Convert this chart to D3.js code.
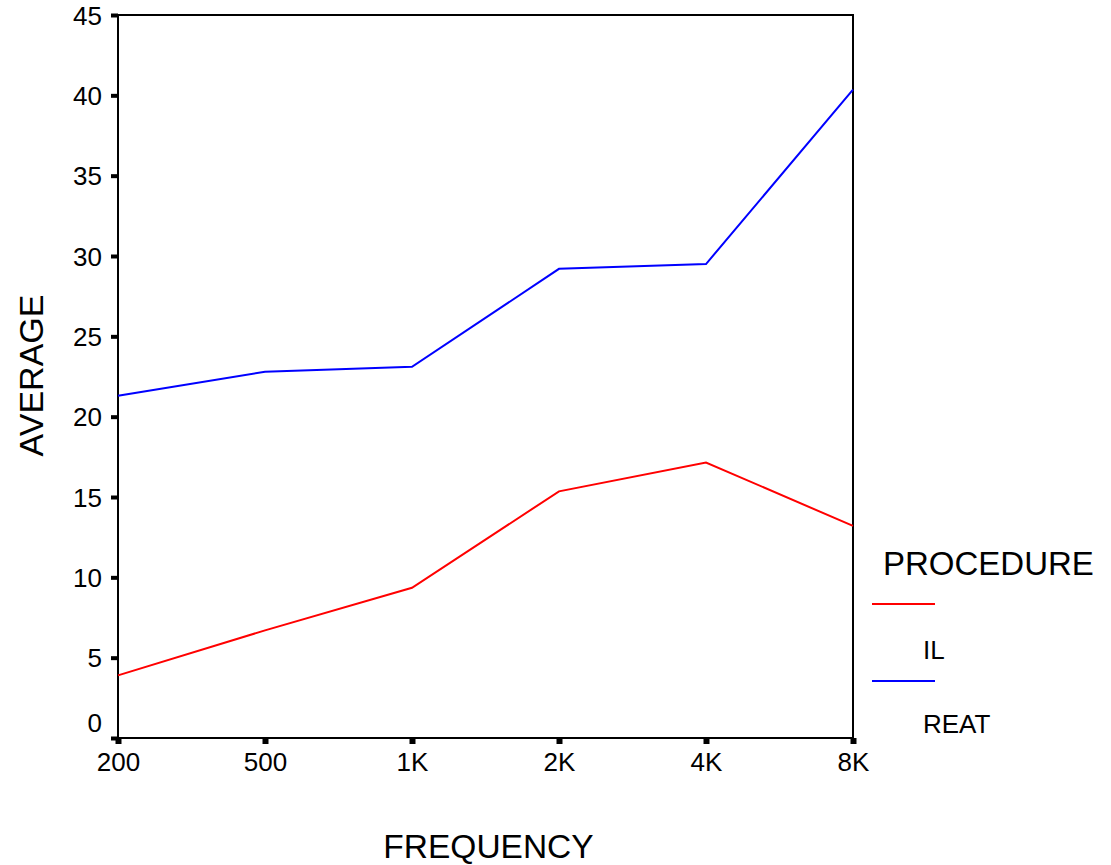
<!DOCTYPE html>
<html>
<head>
<meta charset="utf-8">
<script src="https://cdn.jsdelivr.net/npm/d3@7"></script>
<style>
  body { margin: 0; background: #fff; }
  text { font-family: Arial, "Liberation Sans", sans-serif; fill: #000; }
</style>
</head>
<body>
<div class="canvas"></div>
<script>
const frequencies = ["200", "500", "1K", "2K", "4K", "8K"];
const ilValues = [3.9, 6.7, 9.35, 15.35, 17.15, 13.2];
const reatValues = [21.3, 22.8, 23.1, 29.2, 29.5, 40.35];
const yTicks = [0, 5, 10, 15, 20, 25, 30, 35, 40, 45];
const seriesNames = ["IL", "REAT"];
const seriesColors = ["#ff0000", "#0000ff"];

const svg = d3.select(".canvas")
  .append("svg")
  .attr("width", 1111)
  .attr("height", 865);

const plot = { left: 118, right: 853, top: 15, bottom: 738 };

const x = d3.scalePoint().domain(frequencies).range([plot.left, plot.right]);
const y = d3.scaleLinear().domain([0, 45]).range([plot.bottom, plot.top]);

// frame
svg.append("rect")
  .attr("x", plot.left)
  .attr("y", plot.top)
  .attr("width", plot.right - plot.left)
  .attr("height", plot.bottom - plot.top)
  .attr("fill", "none")
  .attr("stroke", "#000")
  .attr("stroke-width", 2);

const yAxis = svg.append("g")
  .attr("transform", `translate(${plot.left},0)`)
  .call(d3.axisLeft(y).tickValues(yTicks).tickSize(7).tickSizeOuter(0).tickPadding(9));

yAxis.select(".domain").remove();
yAxis.selectAll(".tick line").attr("stroke", "#000").attr("stroke-width", 4);
yAxis.selectAll(".tick text")
  .attr("font-size", 26)
  .attr("fill", "#000")
  .attr("dy", d => d === 0 ? "-0.25em" : "0.35em");

const xAxis = svg.append("g")
  .attr("transform", `translate(0,${plot.bottom})`)
  .call(d3.axisBottom(x).tickSize(6).tickSizeOuter(0).tickPadding(9));

xAxis.select(".domain").remove();
xAxis.selectAll(".tick line").attr("stroke", "#000").attr("stroke-width", 6);
xAxis.selectAll(".tick text")
  .attr("font-size", 26)
  .attr("fill", "#000");

const line = d3.line()
  .x((d, i) => x(frequencies[i]))
  .y(d => y(d));

[ilValues, reatValues].forEach((vals, i) => {
  svg.append("path")
    .datum(vals)
    .attr("d", line)
    .attr("fill", "none")
    .attr("stroke", seriesColors[i])
    .attr("stroke-width", 2);
});

// axis titles
svg.append("text")
  .attr("x", (plot.left + plot.right) / 2 + 3)
  .attr("y", 858)
  .attr("text-anchor", "middle")
  .attr("font-size", 33.5)
  .text("FREQUENCY");

svg.append("text")
  .attr("transform", `translate(43,${(plot.top + plot.bottom) / 2 - 1}) rotate(-90)`)
  .attr("text-anchor", "middle")
  .attr("font-size", 34)
  .text("AVERAGE");

// legend
const legend = svg.append("g");

legend.append("text")
  .attr("x", 883)
  .attr("y", 575)
  .attr("font-size", 33)
  .text("PROCEDURE");

seriesNames.forEach((name, i) => {
  const ly = 604 + i * 77;
  legend.append("line")
    .attr("x1", 872)
    .attr("x2", 935)
    .attr("y1", ly)
    .attr("y2", ly)
    .attr("stroke", seriesColors[i])
    .attr("stroke-width", 2);
  legend.append("text")
    .attr("x", 923)
    .attr("y", ly + 55 - i * 3)
    .attr("font-size", 26)
    .text(name);
});
</script>
</body>
</html>
